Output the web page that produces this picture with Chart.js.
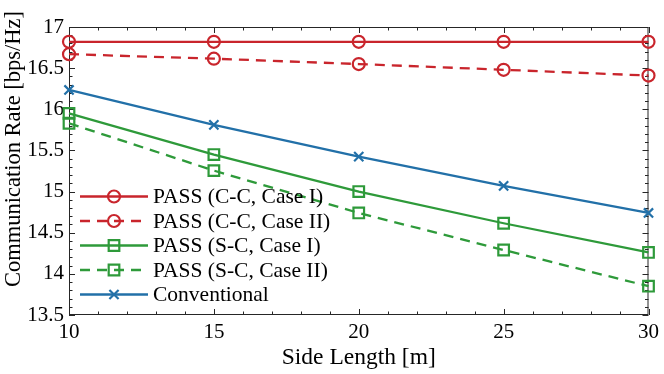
<!DOCTYPE html>
<html>
<head>
<meta charset="utf-8">
<script src="https://cdn.jsdelivr.net/npm/chart.js@4.4.0/dist/chart.umd.min.js"></script>
<style>
  html, body { margin: 0; padding: 0; background: #fff; }
  #wrap { width: 664px; height: 374px; }
</style>
</head>
<body>
<div id="wrap"><canvas id="mychart"></canvas></div>
<script>
// side length on the x axis
var sideLength = [10, 15, 20, 25, 30];
// rates
var ccCase1 = [16.82, 16.82, 16.82, 16.82, 16.82];
var ccCase2 = [16.67, 16.615, 16.55, 16.48, 16.41];
var scCase1 = [15.95, 15.45, 15.0, 14.615, 14.26];
var scCase2 = [15.83, 15.255, 14.74, 14.29, 13.85];
var conventional = [16.235, 15.81, 15.425, 15.07, 14.74];
var seriesNames = ['PASS (C-C, Case I)', 'PASS (C-C, Case II)', 'PASS (S-C, Case I)', 'PASS (S-C, Case II)', 'Conventional'];
var yTitle = 'Communication Rate [bps/Hz]';

var red = '#c9252c', green = '#2e9a3a', blue = '#2270a8';
var axisColor = '#262626';
var fontFam = '"Liberation Serif", "Times New Roman", serif';

function pts(arr) {
  return sideLength.map(function (x, i) { return { x: x, y: arr[i] }; });
}

function ds(label, arr, color, dash, style, r) {
  return {
    label: label,
    data: pts(arr),
    borderColor: color,
    borderWidth: 2.3,
    borderDash: dash,
    pointStyle: style,
    pointRadius: r,
    pointHoverRadius: r,
    pointBorderWidth: 2.2,
    pointBorderColor: color,
    pointBackgroundColor: 'rgba(0,0,0,0)',
    tension: 0,
    clip: false
  };
}

// box with inward ticks, MATLAB style
var boxPlugin = {
  id: 'box',
  beforeDatasetsDraw: function (chart) {
    var ctx = chart.ctx, a = chart.chartArea;
    var xs = chart.scales.x, ys = chart.scales.y;
    ctx.save();
    ctx.strokeStyle = axisColor;
    ctx.lineWidth = 1;
    ctx.strokeRect(a.left + 0.5, a.top + 0.5, a.right - a.left - 1, a.bottom - a.top - 1);
    ctx.beginPath();
    for (var v = 10; v <= 30; v += 1) {
      var px = Math.round(xs.getPixelForValue(v)) + 0.5;
      var len = (v % 5 === 0) ? 6 : 3.5;
      ctx.moveTo(px, a.bottom); ctx.lineTo(px, a.bottom - len);
      ctx.moveTo(px, a.top); ctx.lineTo(px, a.top + len);
    }
    for (var k = 135; k <= 170; k += 1) {
      var val = k / 10;
      var py = Math.round(ys.getPixelForValue(val)) + 0.5;
      var l2 = (k % 5 === 0) ? 6 : 3.5;
      ctx.moveTo(a.left, py); ctx.lineTo(a.left + l2, py);
      ctx.moveTo(a.right, py); ctx.lineTo(a.right - l2, py);
    }
    ctx.stroke();

    // y axis title, a bit above the plot centre like the original
    ctx.fillStyle = '#000';
    ctx.font = '22.5px ' + fontFam;
    ctx.textAlign = 'center';
    ctx.textBaseline = 'middle';
    ctx.translate(14, 149);
    ctx.rotate(-Math.PI / 2);
    ctx.fillText(yTitle, 0, 0);
    ctx.restore();
  },
  afterDatasetsDraw: function (chart) {
    var ctx = chart.ctx;
    ctx.save();
    chart.data.datasets.forEach(function (d, i) {
      var y = 196.5 + i * 24.5;
      ctx.strokeStyle = d.borderColor;
      ctx.lineWidth = 2.3;
      ctx.setLineDash(d.borderDash || []);
      ctx.beginPath();
      ctx.moveTo(80, y); ctx.lineTo(148, y);
      ctx.stroke();
      ctx.setLineDash([]);
      ctx.fillStyle = 'rgba(0,0,0,0)';
      ctx.lineWidth = 2.2;
      Chart.helpers.drawPoint(ctx, { pointStyle: d.pointStyle, radius: d.pointRadius, borderWidth: 2, rotation: 0 }, 114, y);
      ctx.fillStyle = '#000';
      ctx.font = '21.5px ' + fontFam;
      ctx.textBaseline = 'middle';
      ctx.textAlign = 'left';
      ctx.fillText(d.label, 153, y + 1);
    });
    ctx.restore();
  }
};

var ctx = document.getElementById('mychart');
var myChart = new Chart(ctx, {
  type: 'line',
  data: {
    datasets: [
      ds(seriesNames[0], ccCase1, red, [], 'circle', 6),
      ds(seriesNames[1], ccCase2, red, [10, 7], 'circle', 6),
      ds(seriesNames[2], scCase1, green, [], 'rect', 7.5),
      ds(seriesNames[3], scCase2, green, [10, 7], 'rect', 7.5),
      ds(seriesNames[4], conventional, blue, [], 'crossRot', 6.5)
    ]
  },
  options: {
    responsive: true,
    maintainAspectRatio: false,
    animation: false,
    layout: { padding: { top: 27, right: 13, left: 0, bottom: 0 } },
    plugins: {
      legend: { display: false },
      tooltip: { enabled: false }
    },
    scales: {
      x: {
        type: 'linear',
        min: 10,
        max: 30,
        afterFit: function (s) { s.height = 59; },
        grid: { display: false, drawTicks: false },
        border: { display: false },
        ticks: {
          stepSize: 5,
          padding: 5,
          color: '#000',
          font: { family: fontFam, size: 21 }
        },
        title: {
          display: true,
          text: 'Side Length [m]',
          color: '#000',
          font: { family: fontFam, size: 23.5 },
          padding: { top: 0, bottom: 2 }
        }
      },
      y: {
        min: 13.5,
        max: 17,
        afterFit: function (s) { s.width = 69; },
        grid: { display: false, drawTicks: false },
        border: { display: false },
        ticks: {
          stepSize: 0.5,
          padding: 5,
          color: '#000',
          font: { family: fontFam, size: 21 },
          callback: function (v) { return String(v); }
        }
      }
    }
  },
  plugins: [boxPlugin]
});
</script>
</body>
</html>
